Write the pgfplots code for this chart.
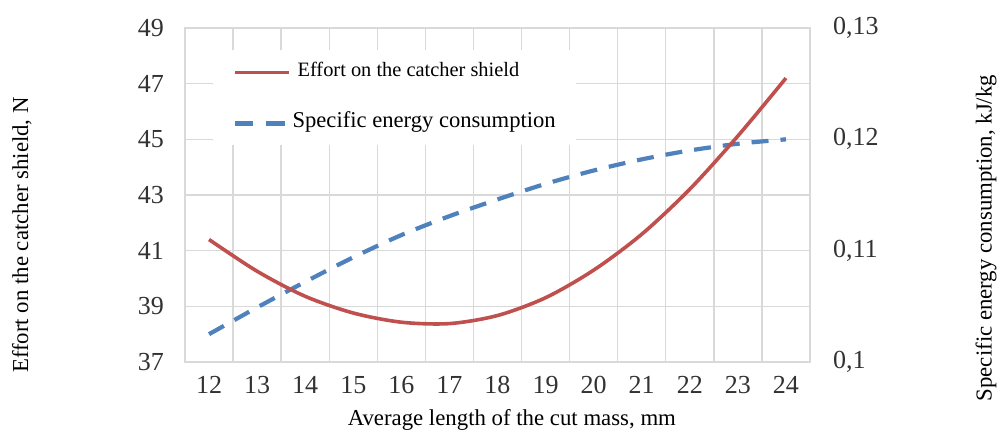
\documentclass[border=0pt]{standalone}
\usepackage{fontspec}
\setmainfont{Liberation Serif}
\usepackage{pgfplots}
\pgfplotsset{compat=1.18}
\definecolor{effred}{RGB}{192,80,77}
\definecolor{engblue}{RGB}{79,129,189}
\definecolor{gridgray}{RGB}{217,217,217}
\definecolor{ticktext}{RGB}{50,50,50}
\pgfplotsset{
  common/.style={
    scale only axis, width=312.5pt, height=167pt,
    xmin=11.5, xmax=24.5,
    major tick length=0pt, minor tick length=0pt,
    /pgf/number format/assume math mode=true,
    tick label style={font=\fontsize{13}{15}\selectfont, text=ticktext},
    label style={font=\fontsize{11.4}{13}\selectfont},
  }
}
\begin{document}
\begin{tikzpicture}
\path[use as bounding box] (-92.5pt,-35.5pt) rectangle (406.5pt,181pt);
% axis 1: left scale, grid, ticks
\begin{axis}[common,
  ymin=37, ymax=49,
  xtick={12,13,14,15,16,17,18,19,20,21,22,23,24},
  minor xtick={11.5,12.5,13.5,14.5,15.5,16.5,17.5,18.5,19.5,20.5,21.5,22.5,23.5,24.5},
  ytick={37,39,41,43,45,47,49},
  xtick pos=bottom, ytick pos=left,
  xminorgrids, ymajorgrids,
  grid style={gridgray, line width=0.7pt},
  minor grid style={gridgray, line width=0.7pt},
  axis line style={gridgray, line width=0.7pt},
  xticklabel shift=3.5pt,
  yticklabel shift=7pt,
  xlabel={Average length of the cut mass, mm},
  xlabel style={at={(rel axis cs:0.523,-0.1737)}, anchor=center},
  ylabel={Effort on the catcher shield, N},
  ylabel style={at={(rel axis cs:-0.261,0.38)}, anchor=center},
]
\end{axis}
% axis 2: right scale, blue series
\begin{axis}[common,
  ymin=0.1, ymax=0.13,
  axis x line=none,
  axis y line*=right,
  y axis line style={draw=none},
  ytick={0.1,0.11,0.12,0.13},
  yticklabel style={/pgf/number format/.cd, use comma, fixed, precision=2},
  yticklabel shift=8pt,
  ylabel={Specific energy consumption, kJ/kg},
  ylabel style={at={(rel axis cs:1.2816,0.371)}, anchor=center},
]
\addplot[engblue, line width=2.1pt, dash pattern=on 8.5pt off 6pt, smooth] coordinates {
(12,0.1025) (13,0.1049) (14,0.1072) (15,0.1094) (16,0.1114) (17,0.1131) (18,0.1146)
(19,0.1160) (20,0.1172) (21,0.1182) (22,0.1190) (23,0.1196) (24,0.1200)};
\end{axis}
% axis 3: left scale, red series and legend
\begin{axis}[common,
  ymin=37, ymax=49,
  hide axis,
  legend cell align=left,
  legend style={at={(rel axis cs:0.0448,0.934)}, anchor=north west,
    fill=white, draw=none, inner xsep=10pt, inner ysep=6.25pt,
    row sep=16pt, column sep=0pt,
    nodes={inner sep=0pt, text height=7pt, text depth=2.5pt}},
  legend image code/.code={\draw[#1] (0pt,0pt) -- (26.5pt,0pt); \path (32pt,0pt);},
]
\addplot[effred, line width=1.8pt, smooth] coordinates {
(12,41.40) (13,40.26) (14,39.36) (15,38.76) (16,38.43) (17,38.38) (18,38.67)
(19,39.31) (20,40.30) (21,41.59) (22,43.21) (23,45.12) (24,47.20)};
\addlegendentry{\fontsize{10.2}{12}\selectfont\hspace{-2pt}Effort on the catcher shield}
\addlegendimage{engblue, line width=2.1pt, dash pattern=on 9pt off 6.5pt}
\addlegendentry{\fontsize{11.3}{13}\selectfont\hspace{-4.5pt}Specific energy consumption}
\end{axis}
\end{tikzpicture}
\end{document}
